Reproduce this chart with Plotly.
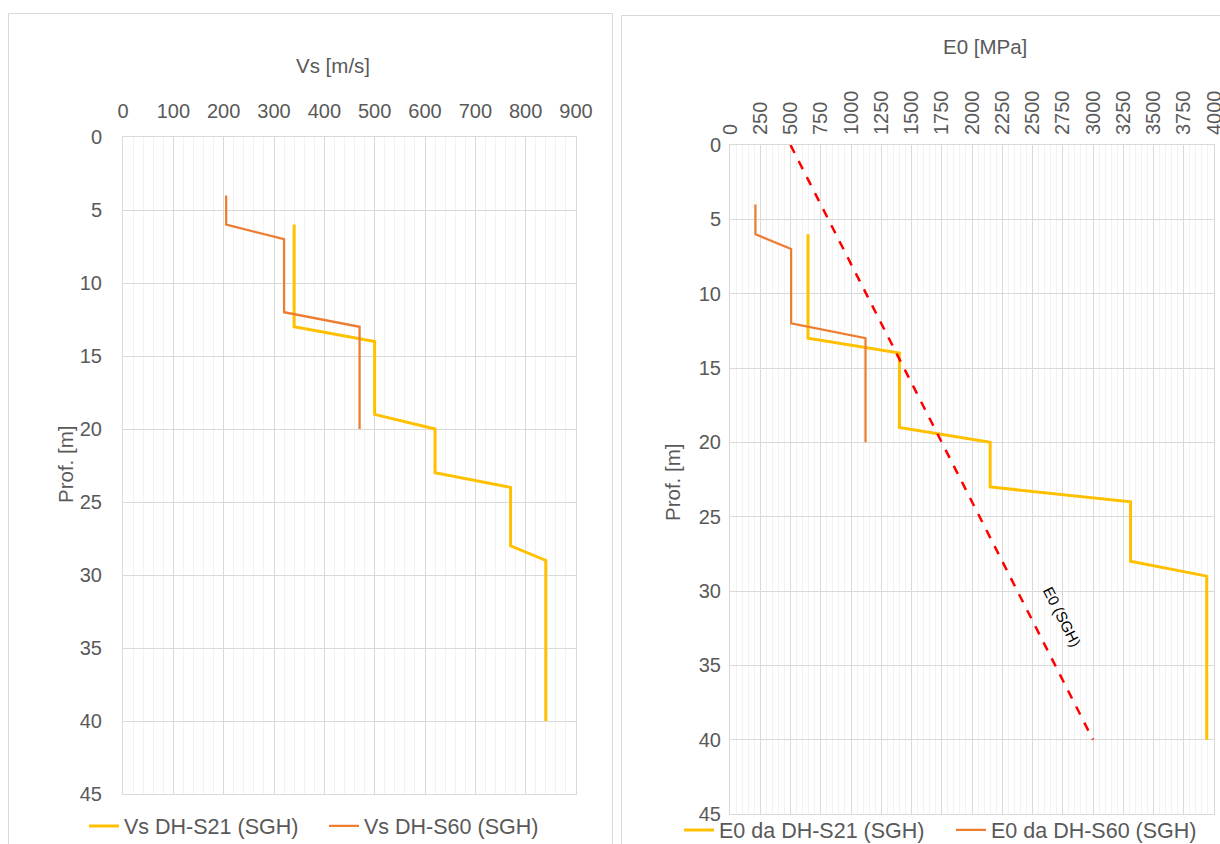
import plotly.graph_objects as go

# ---- data ----
depth_s21 = [6, 13, 14, 19, 20, 23, 24, 28, 29, 40]
vs_s21 = [340, 340, 500, 500, 620, 620, 770, 770, 840, 840]
depth_s60 = [4, 6, 7, 12, 13, 20]
vs_s60 = [205, 205, 320, 320, 470, 470]
e0_s21 = [645, 645, 1400, 1400, 2150, 2150, 3310, 3310, 3940, 3940]
e0_s60 = [210, 210, 505, 505, 1120, 1120]
depth_sgh = [0, 40]
e0_sgh = [500, 3000]

W, H = 1220, 844
FONT = "Liberation Sans"
TXT = "#595959"
GRID = "#D9D9D9"
MINOR = "#F2F2F2"
YELLOW = "#FFC000"
ORANGE = "#ED7D31"


def px(x):
    return x / W


def py(y):
    return 1 - y / H


fig = go.Figure()

fig.add_trace(go.Scatter(x=vs_s21, y=depth_s21, mode="lines", name="Vs DH-S21 (SGH)",
                         line=dict(color=YELLOW, width=3), xaxis="x", yaxis="y", legend="legend"))
fig.add_trace(go.Scatter(x=vs_s60, y=depth_s60, mode="lines", name="Vs DH-S60 (SGH)",
                         line=dict(color=ORANGE, width=2.25), xaxis="x", yaxis="y", legend="legend"))
fig.add_trace(go.Scatter(x=e0_s21, y=depth_s21, mode="lines", name="E0 da DH-S21 (SGH)",
                         line=dict(color=YELLOW, width=3), xaxis="x2", yaxis="y2", legend="legend2"))
fig.add_trace(go.Scatter(x=e0_s60, y=depth_s60, mode="lines", name="E0 da DH-S60 (SGH)",
                         line=dict(color=ORANGE, width=2.25), xaxis="x2", yaxis="y2", legend="legend2"))
fig.add_trace(go.Scatter(x=e0_sgh, y=depth_sgh, mode="lines", name="E0 (SGH)",
                         line=dict(color="#FF0000", width=2.5, dash="dash"), xaxis="x2", yaxis="y2",
                         showlegend=False))

tickfont = dict(family=FONT, size=20, color=TXT)

common_x = dict(side="top", showgrid=True, gridcolor=GRID, gridwidth=1, zeroline=False,
                showline=True, mirror=True, linecolor=GRID, linewidth=1, ticks="",
                tickfont=tickfont, fixedrange=True, automargin=False,
                ticklabeloverflow="allow")
common_y = dict(showgrid=True, gridcolor=GRID, gridwidth=1, zeroline=False,
                showline=True, mirror=True, linecolor=GRID, linewidth=1, ticks="",
                tickfont=tickfont, fixedrange=True, tickmode="linear", tick0=0, dtick=5,
                automargin=False, ticklabeloverflow="allow")

legfont = dict(family=FONT, size=21.5, color=TXT)

fig.update_layout(
    width=W, height=H,
    margin=dict(l=0, r=0, t=0, b=0, pad=0, autoexpand=False),
    paper_bgcolor="white", plot_bgcolor="white",
    font=dict(family=FONT, color=TXT, size=20),
    xaxis=dict(**common_x, domain=[px(123), px(576)], range=[0, 900], anchor="y",
               tickmode="linear", tick0=0, dtick=100, ticklabelstandoff=10,
               minor=dict(dtick=20, showgrid=True, gridcolor=MINOR, gridwidth=1)),
    yaxis=dict(**common_y, domain=[py(794), py(137)], range=[45, 0], anchor="x",
               ticklabelstandoff=16),
    xaxis2=dict(**common_x, domain=[px(730), px(1214)], range=[0, 4000], anchor="y2",
                tickmode="linear", tick0=0, dtick=250, tickangle=-90, ticklabelstandoff=5,
                minor=dict(dtick=50, showgrid=True, gridcolor=MINOR, gridwidth=1)),
    yaxis2=dict(**common_y, domain=[py(814), py(145)], range=[45, 0], anchor="x2",
                ticklabelstandoff=4),
    legend=dict(orientation="h", x=px(84), y=py(826), xanchor="left", yanchor="middle",
                font=legfont, bgcolor="rgba(0,0,0,0)", itemwidth=30, tracegroupgap=0,
                entrywidth=195, entrywidthmode="pixels"),
    legend2=dict(orientation="h", x=px(679), y=py(830), xanchor="left", yanchor="middle",
                 font=legfont, bgcolor="rgba(0,0,0,0)", itemwidth=30, tracegroupgap=0,
                 entrywidth=227, entrywidthmode="pixels"),
    showlegend=True,
)

titlefont = dict(family=FONT, size=20.5, color=TXT)
annotations = [
    dict(text="Vs [m/s]", x=px(333), y=py(65), xref="paper", yref="paper",
         xanchor="center", yanchor="middle", showarrow=False, font=titlefont),
    dict(text="Prof. [m]", x=px(65), y=py(465), xref="paper", yref="paper", textangle=-90,
         xanchor="center", yanchor="middle", showarrow=False, font=titlefont),
    dict(text="E0 [MPa]", x=px(985), y=py(47), xref="paper", yref="paper",
         xanchor="center", yanchor="middle", showarrow=False, font=titlefont),
    dict(text="Prof. [m]", x=px(672), y=py(483), xref="paper", yref="paper", textangle=-90,
         xanchor="center", yanchor="middle", showarrow=False, font=titlefont),
    dict(text="E0 (SGH)", x=2745, y=31.7, xref="x2", yref="y2", textangle=63,
         xanchor="center", yanchor="middle", showarrow=False,
         font=dict(family=FONT, size=15, color="#000000")),
]
fig.update_layout(annotations=annotations)

shapes = [
    dict(type="rect", xref="paper", yref="paper", x0=px(8.5), x1=px(612.5), y0=py(900), y1=py(13.5),
         line=dict(color=GRID, width=1), fillcolor="rgba(0,0,0,0)", layer="below"),
    dict(type="rect", xref="paper", yref="paper", x0=px(621.5), x1=px(1300), y0=py(900), y1=py(15.5),
         line=dict(color=GRID, width=1), fillcolor="rgba(0,0,0,0)", layer="below"),
]
fig.update_layout(shapes=shapes)

fig.write_html(
    "out.html",
    config={"displayModeBar": False},
    post_script=(
        "document.body.style.margin='0';"
        "document.body.style.padding='0';"
        "document.documentElement.style.overflow='hidden';"
        "document.body.style.overflow='hidden';"
    ),
)
